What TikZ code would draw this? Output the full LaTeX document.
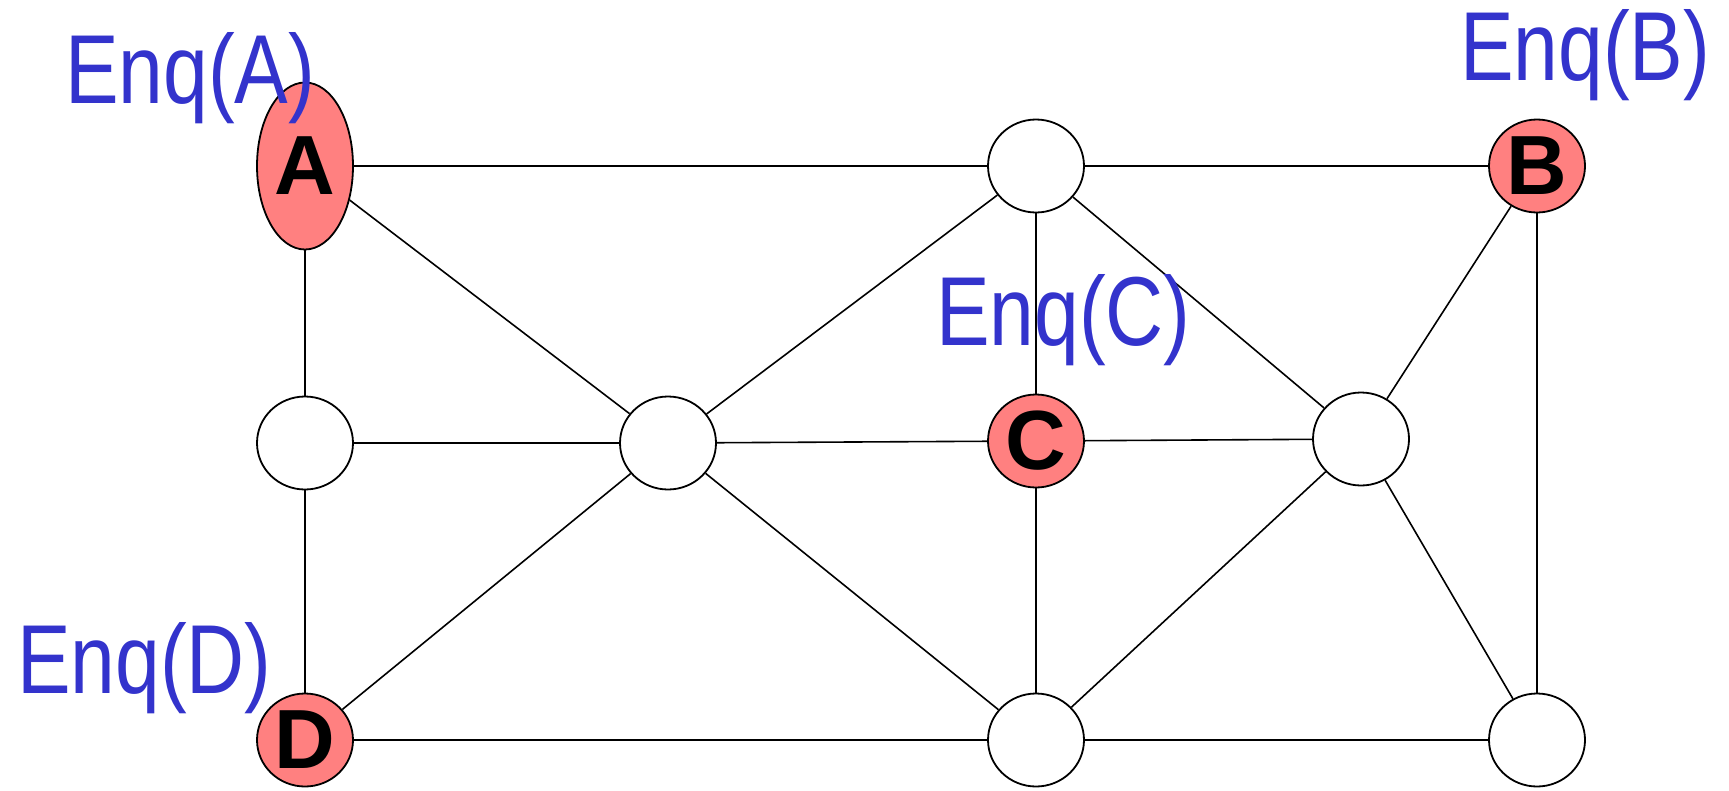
\documentclass[tikz,border=0pt]{standalone}
\usepackage{fontspec}
\setmainfont{Liberation Sans}
\usetikzlibrary{shapes.geometric}
\definecolor{enqblue}{HTML}{3333CC}
\definecolor{nodepink}{HTML}{FF8080}
\tikzset{
  vert/.style={ellipse, draw=black, line width=1.8pt, minimum width=96pt, minimum height=93pt, inner sep=0pt, fill=white},
  marked/.style={vert, fill=nodepink, font=\fontsize{84}{84}\selectfont\bfseries},
  edge/.style={draw=black, line width=1.6pt},
  enq/.style={anchor=base west, inner sep=0pt, text=enqblue, font=\fontsize{98}{98}\selectfont}
}
\begin{document}
\begin{tikzpicture}[x=1pt,y=-1pt]
\useasboundingbox (0,0) rectangle (1729,790);
\node[marked, minimum height=167pt] (A) at (305,166) {A};
\node[vert] (T) at (1036,166) {};
\node[marked] (B) at (1537,166) {B};
\node[vert] (L) at (305,443) {};
\node[vert] (M) at (668,443) {};
\node[marked] (C) at (1036,441) {C};
\node[vert] (R) at (1361,439) {};
\node[marked] (D) at (305,740) {D};
\node[vert] (BM) at (1036,740) {};
\node[vert] (BR) at (1537,740) {};
\path[edge] (A) -- (T);
\path[edge] (T) -- (B);
\path[edge] (A) -- (L);
\path[edge] (A) -- (M);
\path[edge] (L) -- (M);
\path[edge] (L) -- (D);
\path[edge] (M) -- (T);
\path[edge] (M) -- (C);
\path[edge] (M) -- (D);
\path[edge] (M) -- (BM);
\path[edge] (T) -- (C);
\path[edge] (T) -- (R);
\path[edge] (B) -- (R);
\path[edge] (B) -- (BR);
\path[edge] (C) -- (R);
\path[edge] (C) -- (BM);
\path[edge] (R) -- (BM);
\path[edge] (R) -- (BR);
\path[edge] (D) -- (BM);
\path[edge] (BM) -- (BR);
\node[enq] (eA) at (65,103) {\scalebox{0.82}[1]{Enq(A)}};
\node[enq] (eB) at (1460,80) {\scalebox{0.82}[1]{Enq(B)}};
\node[enq] (eC) at (936,345) {\scalebox{0.82}[1]{Enq(C)}};
\node[enq] (eD) at (17,693) {\scalebox{0.82}[1]{Enq(D)}};
\end{tikzpicture}
\end{document}
